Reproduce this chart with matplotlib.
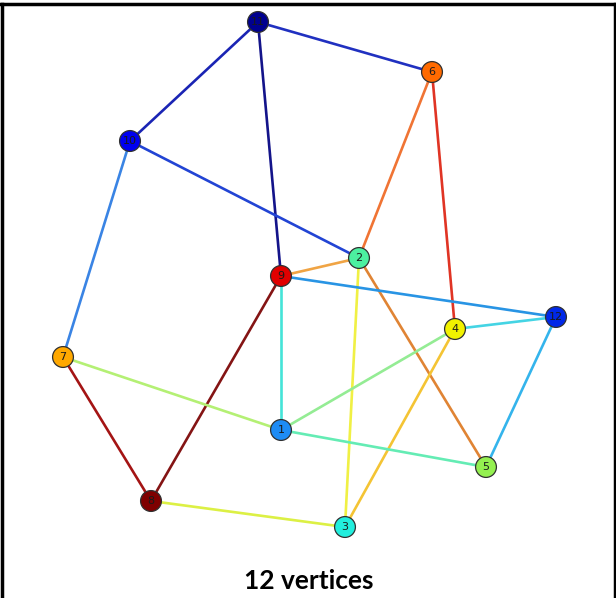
import matplotlib
matplotlib.use("Agg")
import matplotlib.pyplot as plt

# ---- data ----
node_labels = ["1", "2", "3", "4", "5", "6", "7", "8", "9", "10", "11", "12"]
node_x = [281, 359, 345, 455, 486, 432, 63, 151, 281, 130, 258, 556]
node_y = [430, 258, 527, 329, 467, 72, 357, 501, 276, 141, 22, 317]
node_colors = ["#1E8CF5", "#4CF0A0", "#22EEDD", "#F2F200", "#94F050",
               "#FF6A00", "#FFA800", "#7F0000", "#E00000", "#0000F0",
               "#00008F", "#0028E8"]

edges_src = ["11", "11", "11", "10", "10", "6", "6", "2", "2", "2", "9",
             "9", "9", "12", "12", "4", "4", "7", "7", "1", "8"]
edges_dst = ["6", "10", "9", "2", "7", "2", "4", "9", "3", "5", "12",
             "1", "8", "4", "5", "1", "3", "1", "8", "5", "3"]
edge_colors = ["#2030C0", "#1A24B4", "#14148A", "#2244D4", "#3A84E4",
               "#F07434", "#E03424", "#F0A444", "#F0F044", "#E08434",
               "#2894E4", "#44E4D8", "#841414", "#44D4E4", "#34B4EC",
               "#94EC94", "#F4C434", "#B4F074", "#A41414", "#64ECB4",
               "#DCF044"]

title = "12 vertices"

# ---- figure ----
W, H = 616, 598
fig = plt.figure(figsize=(W / 100, H / 100), dpi=100)
ax = fig.add_axes([0, 0, 1, 1])
ax.set_xlim(0, W)
ax.set_ylim(H, 0)
ax.axis("off")

idx = {lab: i for i, lab in enumerate(node_labels)}
for s, d, c in zip(edges_src, edges_dst, edge_colors):
    i, j = idx[s], idx[d]
    ax.plot([node_x[i], node_x[j]], [node_y[i], node_y[j]], color=c,
            lw=1.9, zorder=1, solid_capstyle="round")

ax.scatter(node_x, node_y, s=225, c=node_colors, edgecolors="#303030",
           linewidths=0.9, zorder=2)
for lab, x, y in zip(node_labels, node_x, node_y):
    ax.text(x, y, lab, ha="center", va="center", fontsize=8,
            color="#1A1A1A", zorder=3, family="DejaVu Sans")

ax.text(W / 2 + 1, 581, title, ha="center", va="center", fontsize=19,
        fontweight="bold", family="Lato", color="black")

# frame border
fig.add_artist(plt.Line2D([1.5 / W, 1.5 / W], [0, 1 - 4 / H], color="black",
                          lw=2.5, transform=fig.transFigure))
fig.add_artist(plt.Line2D([614.5 / W, 614.5 / W], [0, 1 - 4 / H], color="black",
                          lw=2.5, transform=fig.transFigure))
fig.add_artist(plt.Line2D([0, 1], [1 - 4 / H, 1 - 4 / H], color="black",
                          lw=2.5, transform=fig.transFigure))

fig.savefig("out.png", dpi=100, facecolor="white")
